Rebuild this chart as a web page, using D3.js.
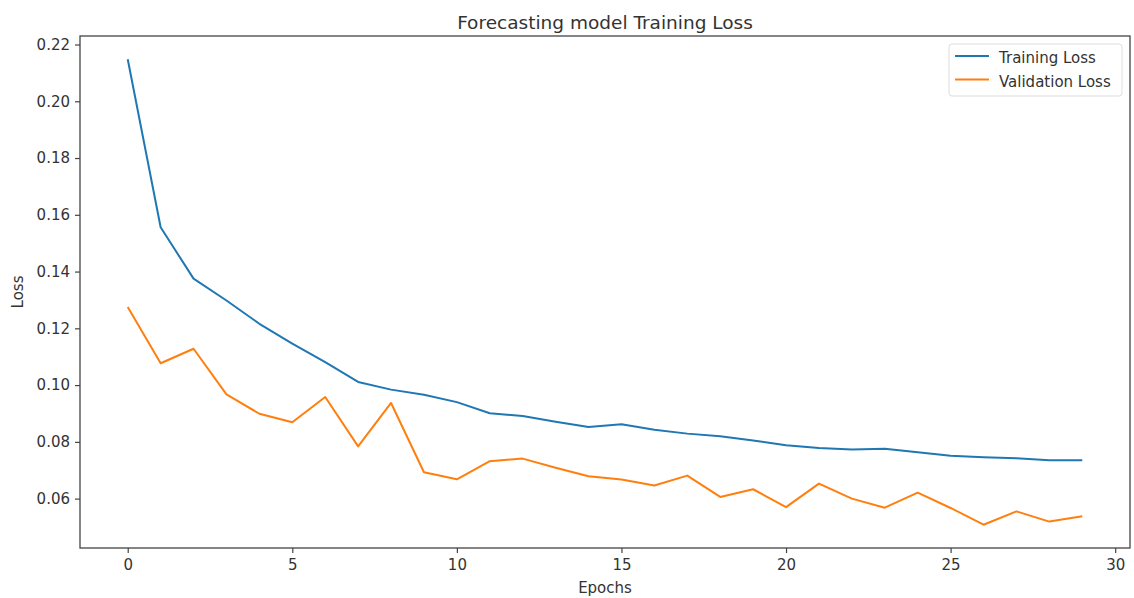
<!DOCTYPE html>
<html>
<head>
<meta charset="utf-8">
<script src="https://cdn.jsdelivr.net/npm/d3@7"></script>
<style>
  body { margin: 0; background: #fff; }
  text { font-family: "DejaVu Sans", sans-serif; fill: #333; }
</style>
</head>
<body>
<div id="chart"></div>
<script>
var epochs = d3.range(30);
var trainLoss = [0.2148, 0.1556, 0.1375, 0.1298, 0.1216, 0.1146, 0.1081, 0.1011, 0.0984, 0.0966,
                 0.0940, 0.0901, 0.0891, 0.0871, 0.0852, 0.0862, 0.0843, 0.0829, 0.0820, 0.0805,
                 0.0788, 0.0778, 0.0773, 0.0776, 0.0763, 0.0751, 0.0746, 0.0742, 0.0735, 0.0735];
var valLoss = [0.1275, 0.1077, 0.1128, 0.0967, 0.0899, 0.0869, 0.0958, 0.0784, 0.0937, 0.0693,
               0.0668, 0.0732, 0.0741, 0.0709, 0.0679, 0.0667, 0.0646, 0.0681, 0.0606, 0.0633,
               0.0570, 0.0653, 0.0600, 0.0568, 0.0621, 0.0567, 0.0508, 0.0555, 0.0519, 0.0538];
var seriesNames = ["Training Loss", "Validation Loss"];
var seriesColors = ["#1f77b4", "#ff7f0e"];
var xTicks = [0, 5, 10, 15, 20, 25, 30];
var yTicks = [0.06, 0.08, 0.10, 0.12, 0.14, 0.16, 0.18, 0.20, 0.22];

var svgWidth = 1134;
var svgHeight = 598;
var margin = { top: 36, right: 4, bottom: 50, left: 80 };
var width = svgWidth - margin.left - margin.right;
var height = svgHeight - margin.top - margin.bottom;

var svg = d3.select("#chart")
    .append("svg")
    .attr("width", svgWidth)
    .attr("height", svgHeight);

var chartGroup = svg.append("g")
    .attr("transform", `translate(${margin.left}, ${margin.top})`);

// matplotlib style 5% padding
var xLinearScale = d3.scaleLinear()
    .domain([-1.45, 30.45])
    .range([0, width]);

var yMin = d3.min(valLoss), yMax = d3.max(trainLoss);
var pad = (yMax - yMin) * 0.05;
var yLinearScale = d3.scaleLinear()
    .domain([yMin - pad, yMax + pad])
    .range([height, 0]);

var bottomAxis = d3.axisBottom(xLinearScale).tickValues(xTicks).tickSize(5).tickPadding(6);
var leftAxis = d3.axisLeft(yLinearScale).tickValues(yTicks).tickSize(5).tickPadding(5)
    .tickFormat(d3.format(".2f"));

var xg = chartGroup.append("g")
    .attr("transform", `translate(0, ${height})`)
    .call(bottomAxis);
var yg = chartGroup.append("g")
    .call(leftAxis);

[xg, yg].forEach(function(g) {
    g.select(".domain").remove();
    g.selectAll("line").attr("stroke", "#444").attr("stroke-width", 1.2);
    g.selectAll("text").attr("font-size", 15).style("fill", "#333")
        .attr("font-family", "DejaVu Sans, sans-serif");
});

// frame
chartGroup.append("rect")
    .attr("width", width)
    .attr("height", height)
    .attr("fill", "none")
    .attr("stroke", "#444")
    .attr("stroke-width", 1.3);

var line = d3.line()
    .x(function(d, i) { return xLinearScale(epochs[i]); })
    .y(function(d) { return yLinearScale(d); });

[trainLoss, valLoss].forEach(function(s, i) {
    chartGroup.append("path")
        .datum(s)
        .attr("fill", "none")
        .attr("stroke", seriesColors[i])
        .attr("stroke-width", 2)
        .attr("stroke-linejoin", "round")
        .attr("d", line);
});

// legend
var legend = chartGroup.append("g")
    .attr("transform", `translate(${width - 181}, 8)`);
legend.append("rect")
    .attr("width", 173)
    .attr("height", 52)
    .attr("rx", 3)
    .attr("fill", "#fff")
    .attr("fill-opacity", 0.8)
    .attr("stroke", "#ddd");
seriesNames.forEach(function(name, i) {
    legend.append("line")
        .attr("x1", 6).attr("x2", 40)
        .attr("y1", 12 + i * 23.5).attr("y2", 12 + i * 23.5)
        .attr("stroke", seriesColors[i])
        .attr("stroke-width", 2);
    legend.append("text")
        .attr("x", 50)
        .attr("y", 19 + i * 23.5)
        .attr("font-size", 15)
        .text(name);
});

// title and axis labels
svg.append("text")
    .attr("x", margin.left + width / 2)
    .attr("y", 29)
    .attr("text-anchor", "middle")
    .attr("font-size", 18.5)
    .text("Forecasting model Training Loss");

svg.append("text")
    .attr("x", margin.left + width / 2)
    .attr("y", 593)
    .attr("text-anchor", "middle")
    .attr("font-size", 15)
    .text("Epochs");

svg.append("text")
    .attr("transform", `translate(23, ${margin.top + height / 2}) rotate(-90)`)
    .attr("text-anchor", "middle")
    .attr("font-size", 15)
    .text("Loss");
</script>
</body>
</html>
